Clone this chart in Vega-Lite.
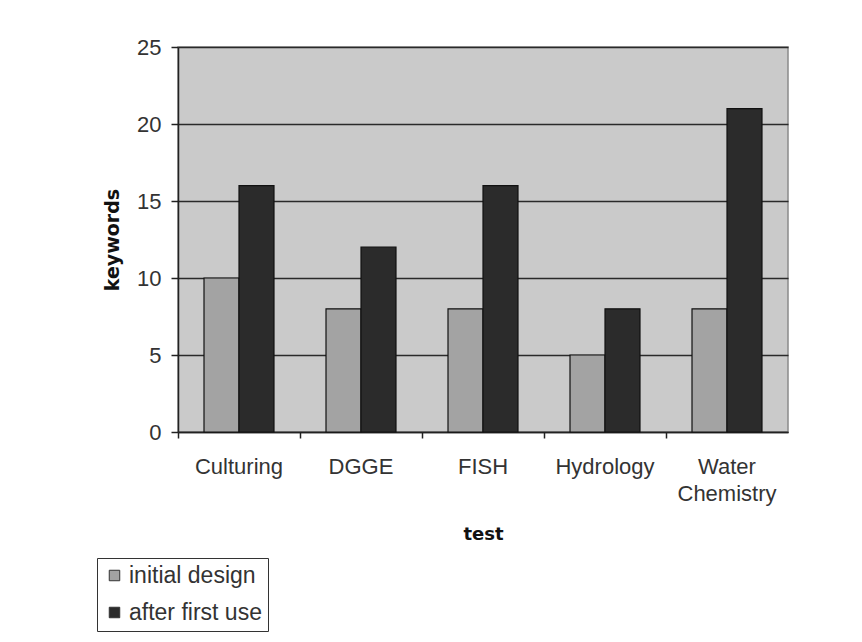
{
  "$schema": "https://vega.github.io/schema/vega-lite/v6.json",
  "width": 610,
  "height": 385,
  "autosize": {"type": "none"},
  "padding": {"left": 178, "top": 47, "right": 74, "bottom": 210},
  "background": "white",
  "config": {
    "view": {"fill": "#cacaca", "stroke": "#8a8a8a", "strokeWidth": 1.5},
    "font": "Liberation Sans"
  },
  "data": {
    "values": [
      {"test": "Culturing", "series": "initial design", "keywords": 10},
      {"test": "Culturing", "series": "after first use", "keywords": 16},
      {"test": "DGGE", "series": "initial design", "keywords": 8},
      {"test": "DGGE", "series": "after first use", "keywords": 12},
      {"test": "FISH", "series": "initial design", "keywords": 8},
      {"test": "FISH", "series": "after first use", "keywords": 16},
      {"test": "Hydrology", "series": "initial design", "keywords": 5},
      {"test": "Hydrology", "series": "after first use", "keywords": 8},
      {"test": "Water Chemistry", "series": "initial design", "keywords": 8},
      {"test": "Water Chemistry", "series": "after first use", "keywords": 21}
    ]
  },
  "mark": {"type": "bar", "stroke": "#111", "strokeWidth": 1.2},
  "encoding": {
    "x": {
      "field": "test",
      "type": "nominal",
      "sort": null,
      "scale": {"paddingInner": 0, "paddingOuter": 0},
      "axis": {
        "title": "test",
        "titleFont": "DejaVu Sans",
        "titleFontWeight": "bold",
        "titleFontSize": 18,
        "titleColor": "#111",
        "titlePadding": 21,
        "labelAngle": 0,
        "labelFontSize": 22,
        "labelColor": "#333",
        "labelPadding": 18,
        "labelLineHeight": 27,
        "labelExpr": "datum.label == 'Water Chemistry' ? ['Water', 'Chemistry'] : datum.label",
        "bandPosition": 0,
        "tickColor": "#222",
        "tickSize": 6,
        "tickWidth": 1.5,
        "domainColor": "#222",
        "domainWidth": 1.5,
        "grid": false
      }
    },
    "xOffset": {
      "field": "series",
      "type": "nominal",
      "sort": ["initial design", "after first use"],
      "scale": {"paddingInner": 0, "paddingOuter": 0.743}
    },
    "y": {
      "field": "keywords",
      "type": "quantitative",
      "scale": {"domain": [0, 25], "nice": false},
      "axis": {
        "title": "keywords",
        "titleFont": "DejaVu Sans",
        "titleFontWeight": "bold",
        "titleFontSize": 19,
        "titleColor": "#111",
        "titlePadding": 14,
        "values": [0, 5, 10, 15, 20, 25],
        "labelFontSize": 22,
        "labelColor": "#333",
        "labelPadding": 10,
        "tickColor": "#222",
        "tickSize": 7,
        "tickWidth": 1.5,
        "domainColor": "#222",
        "domainWidth": 1.5,
        "grid": true,
        "gridColor": "#2a2a2a",
        "gridWidth": 1.5,
        "gridOpacity": 1
      }
    },
    "fill": {
      "field": "series",
      "type": "nominal",
      "sort": ["initial design", "after first use"],
      "scale": {"domain": ["initial design", "after first use"], "range": ["#a3a3a3", "#2b2b2b"]},
      "legend": {
        "title": null,
        "orient": "none",
        "legendX": -81,
        "legendY": 511,
        "symbolType": "square",
        "symbolSize": 110,
        "symbolStrokeColor": "#333",
        "symbolStrokeWidth": 1,
        "labelFontSize": 23,
        "labelColor": "#333",
        "labelOffset": 3,
        "rowPadding": 13,
        "padding": 6,
        "strokeColor": "#333",
        "fillColor": "white"
      }
    }
  }
}
